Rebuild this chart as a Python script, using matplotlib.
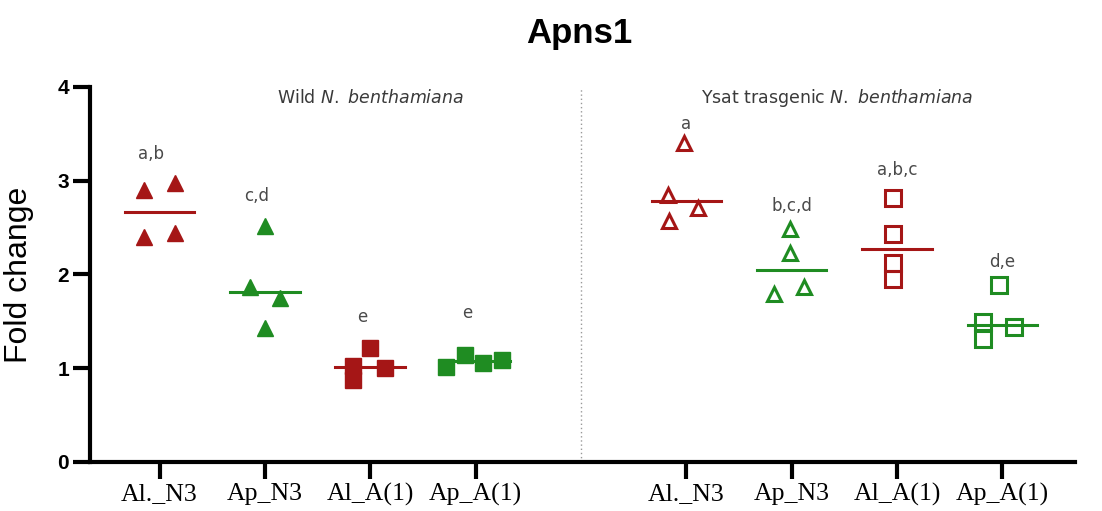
import numpy as np
import matplotlib
matplotlib.use("Agg")
import matplotlib.pyplot as plt

# Apns1 expression, fold change per plant (4 replicates per group)
groups = ["Al._N3", "Ap_N3", "Al_A(1)", "Ap_A(1)"]
panels = ["Wild", "Ysat trasgenic"]

wild_vals = [
    [2.90, 2.98, 2.40, 2.44],
    [2.52, 1.87, 1.75, 1.43],
    [1.22, 1.02, 0.87, 1.00],
    [1.01, 1.14, 1.06, 1.09],
]
trans_vals = [
    [3.40, 2.85, 2.71, 2.57],
    [2.49, 2.23, 1.79, 1.87],
    [2.82, 2.43, 2.12, 1.95],
    [1.89, 1.49, 1.31, 1.44],
]

# horizontal scatter of the points inside each column
wild_jit = [
    [-0.15, 0.15, -0.15, 0.15],
    [0.0, -0.14, 0.14, 0.0],
    [0.0, -0.16, -0.16, 0.14],
    [-0.28, -0.10, 0.07, 0.25],
]
trans_jit = [
    [-0.02, -0.17, 0.11, -0.16],
    [-0.02, -0.02, -0.17, 0.12],
    [-0.04, -0.04, -0.04, -0.04],
    [-0.03, -0.18, -0.18, 0.11],
]

# significance letters
wild_letters = ["a,b", "c,d", "e", "e"]
wild_letter_y = [3.29, 2.84, 1.55, 1.59]
trans_letters = ["a", "b,c,d", "a,b,c", "d,e"]
trans_letter_y = [3.61, 2.73, 3.11, 2.13]

red = "#a51616"
green = "#1f8c22"
colors = [red, green, red, green]
markers = ["^", "^", "s", "s"]
msizes = [11, 11, 12, 12]

fig = plt.figure(figsize=(11.02, 5.11), dpi=100)
ax = fig.add_axes([0.0817, 0.0959, 0.8938, 0.7339])

pos_wild = [1, 2, 3, 4]
pos_trans = [6, 7, 8, 9]

for i in range(4):
    # wild plants: filled markers
    x = pos_wild[i] + np.array(wild_jit[i])
    med = np.median(wild_vals[i])
    ax.plot([pos_wild[i] - 0.33, pos_wild[i] + 0.33], [med, med], color=colors[i], lw=2.2, zorder=2)
    ax.plot(x, wild_vals[i], ls="none", marker=markers[i], ms=msizes[i], color=colors[i],
            mec=colors[i], zorder=3)
    ax.text(pos_wild[i] - 0.08, wild_letter_y[i], wild_letters[i], ha="center", va="center",
            fontsize=12, color="#4a4a4a", family="DejaVu Sans")

    # transgenic plants: open markers
    x = pos_trans[i] + np.array(trans_jit[i])
    med = np.median(trans_vals[i])
    ax.plot([pos_trans[i] - 0.33, pos_trans[i] + 0.33], [med, med], color=colors[i], lw=2.2, zorder=2)
    ax.plot(x, trans_vals[i], ls="none", marker=markers[i], ms=msizes[i] - 0.5, mfc="none",
            mec=colors[i], mew=2.2, zorder=3)
    ax.text(pos_trans[i], trans_letter_y[i], trans_letters[i], ha="center", va="center",
            fontsize=12, color="#4a4a4a", family="DejaVu Sans")

# separator between the two plant lines
ax.plot([5, 5], [0, 4], color="#999999", ls=(0, (1, 2)), lw=1.0, zorder=1)

ax.text(3.0, 3.88, r"Wild $\it{N.}$ $\it{benthamiana}$", ha="center", va="center",
        fontsize=12.5, color="#3a3a3a", family="DejaVu Sans")
ax.text(7.43, 3.88, r"Ysat trasgenic $\it{N.}$ $\it{benthamiana}$", ha="center", va="center",
        fontsize=12.5, color="#3a3a3a", family="DejaVu Sans")

ax.set_xlim(0.34, 9.69)
ax.set_ylim(0, 4)
ax.set_xticks(pos_wild + pos_trans)
ax.set_xticklabels(groups + groups, family="Liberation Serif", fontsize=18.5)
ax.set_yticks([0, 1, 2, 3, 4])
ax.set_yticklabels(["0", "1", "2", "3", "4"], family="Liberation Sans", fontsize=15,
                   fontweight="bold")

for s in ["top", "right"]:
    ax.spines[s].set_visible(False)
for s in ["left", "bottom"]:
    ax.spines[s].set_linewidth(3)
ax.tick_params(axis="both", length=12, width=3, pad=3)

ax.set_ylabel("Fold change", family="Liberation Sans", fontsize=23)
ax.yaxis.set_label_coords(-0.057, 0.5)
fig.text(0.526, 1 - 33 / 511, "Apns1", ha="center", va="center",
         family="Liberation Sans", fontsize=25, fontweight="bold")

fig.savefig("out.png", dpi=100)
